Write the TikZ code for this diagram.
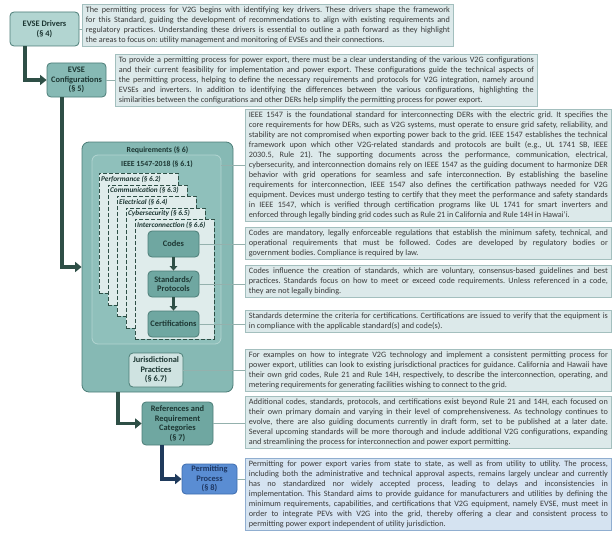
\documentclass[tikz,border=0pt]{standalone}
\usepackage{fontspec}
\setmainfont{Carlito}
\usetikzlibrary{arrows.meta}
\definecolor{boxFill}{HTML}{DCE9EA}
\definecolor{boxLine}{HTML}{A3BFBE}
\definecolor{bodyText}{HTML}{3A3A3A}
\definecolor{tealLight}{HTML}{B2D5D1}
\definecolor{tealMid}{HTML}{86B9B4}
\definecolor{tealInner}{HTML}{8FC0BB}
\definecolor{tealDeep}{HTML}{6FA7A1}
\definecolor{tealDark}{HTML}{4C7D77}
\definecolor{pageFill}{HTML}{DFECEB}
\definecolor{juriFill}{HTML}{CFE3E1}
\definecolor{arrowGreen}{HTML}{2E4F46}
\definecolor{arrowNavy}{HTML}{1F3A5C}
\definecolor{blueFill}{HTML}{5A8DD3}
\definecolor{blueLine}{HTML}{3D6CAE}
\definecolor{blueText}{HTML}{1F3864}
\definecolor{blueBoxFill}{HTML}{D5E3F1}
\definecolor{blueBoxLine}{HTML}{90AED0}
\definecolor{labelText}{HTML}{1D3733}
\hyphenpenalty=10000
\frenchspacing
\begin{document}
\begin{tikzpicture}
		[x=1pt,y=-1pt,
			textDecorate/.style={draw=boxLine,fill=boxFill,text=bodyText,anchor=north west,align=justify,
				inner xsep=3.5pt,inner ysep=2.5pt,line width=0.8pt,font=\fontsize{8.2}{10}\selectfont},
			nodeDecorate/.style={draw=tealDark,rounded corners=4pt,line width=0.8pt,text=labelText,align=center,
				inner sep=1pt,font=\fontsize{8.4}{9.5}\selectfont\bfseries},
			pageDecorate/.style={draw=arrowGreen,dash pattern=on 4pt off 2pt,line width=0.7pt,fill=pageFill,anchor=north west,
				minimum width=79pt,minimum height=120pt,inner sep=0pt},
			pageLabel/.style={anchor=north west,inner xsep=2pt,inner ysep=2.5pt,text=labelText,font=\fontsize{7.3}{8}\selectfont\bfseries\itshape},
			titleLabel/.style={text=labelText,inner sep=0pt,font=\fontsize{7.8}{8}\selectfont\bfseries},
			lineDecorate/.style={-,draw=tealDark!60,line width=0.7pt},
			arrowDecorate/.style={-{Triangle[length=6.5pt,width=10pt]},line width=3.4pt,draw=arrowGreen},
			stepArrow/.style={-{Triangle[length=4.5pt,width=7.5pt]},line width=2.8pt,draw=arrowGreen}]
		\useasboundingbox (0,0) rectangle (613,535);
		% left column of sections
		\node (drivers) at (44.5,29) [nodeDecorate,fill=tealLight,minimum width=69pt,minimum height=34pt] {EVSE Drivers\\(\S~4)};
		\node (config) at (76.5,80) [nodeDecorate,fill=tealMid,minimum width=59pt,minimum height=34pt] {EVSE\\Configurations\\(\S~5)};
		\node (req) at (157.5,267) [nodeDecorate,fill=tealMid,rounded corners=7pt,minimum width=151pt,minimum height=250pt] {};
		\node (reqTitle) at (157.5,150) [titleLabel] {Requirements (\S~6)};
		\node (ieee) at (156.5,249.5) [nodeDecorate,draw=tealLight,fill=tealInner,rounded corners=6pt,minimum width=129pt,minimum height=189pt] {};
		\node (ieeeTitle) at (157,164) [titleLabel] {IEEE 1547-2018 (\S~6.1)};
		\foreach \pagename/\pagetitle/\i in {
				perf/Performance (\S~6.2)/0, comm/Communication (\S~6.3)/1, elec/Electrical (\S~6.4)/2,
				cyber/Cybersecurity (\S~6.5)/3, inter/Interconnection (\S~6.6)/4}
			{
				\node (\pagename) at (99+9*\i,173+11.5*\i) [pageDecorate] {};
				\node [pageLabel] at (\pagename.north west) {\pagetitle};
			}
		\node (codes) at (173.5,244) [nodeDecorate,fill=tealDeep,minimum width=51pt,minimum height=26pt] {Codes};
		\node (stds) at (173.5,284) [nodeDecorate,fill=tealDeep,minimum width=51pt,minimum height=26pt] {Standards/\\Protocols};
		\node (certs) at (173.5,324) [nodeDecorate,fill=tealDeep,minimum width=51pt,minimum height=26pt] {Certifications};
		\node (juris) at (156,370) [nodeDecorate,fill=juriFill,minimum width=54pt,minimum height=34pt] {Jurisdictional\\Practices\\(\S~6.7)};
		\node (refs) at (177.5,423.5) [nodeDecorate,fill=tealDeep,minimum width=71pt,minimum height=43pt] {References and\\Requirement\\Categories\\(\S~7)};
		\node (permit) at (209.5,479) [nodeDecorate,draw=blueLine,fill=blueFill,text=blueText,minimum width=55pt,minimum height=30pt] {Permitting\\Process\\(\S~8)};
		% text boxes
		\node (t1) at (82,4) [textDecorate,text width=364pt] {The permitting process for V2G begins with identifying key drivers. These drivers shape the framework\linebreak for this Standard, guiding the development of recommendations to align with existing requirements and\linebreak regulatory practices. Understanding these drivers is essential to outline a path forward as they highlight\linebreak the areas to focus on: utility management and monitoring of EVSEs and their connections.};
		\node (t2) at (115,54) [textDecorate,text width=415pt] {To provide a permitting process for power export, there must be a clear understanding of the various V2G configurations\linebreak and their current feasibility for implementation and power export. These configurations guide the technical aspects of\linebreak the permitting process, helping to define the necessary requirements and protocols for V2G integration, namely around\linebreak EVSEs and inverters. In addition to identifying the differences between the various configurations, highlighting the\linebreak similarities between the configurations and other DERs help simplify the permitting process for power export.};
		\node (t3) at (245,109) [textDecorate,text width=359pt] {IEEE 1547 is the foundational standard for interconnecting DERs with the electric grid. It specifies the\linebreak core requirements for how DERs, such as V2G systems, must operate to ensure grid safety, reliability, and\linebreak stability are not compromised when exporting power back to the grid. IEEE 1547 establishes the technical\linebreak framework upon which other V2G-related standards and protocols are built (e.g., UL 1741 SB, IEEE\linebreak 2030.5, Rule 21). The supporting documents across the performance, communication, electrical,\linebreak cybersecurity, and interconnection domains rely on IEEE 1547 as the guiding document to harmonize DER\linebreak behavior with grid operations for seamless and safe interconnection. By establishing the baseline\linebreak requirements for interconnection, IEEE 1547 also defines the certification pathways needed for V2G\linebreak equipment. Devices must undergo testing to certify that they meet the performance and safety standards\linebreak in IEEE 1547, which is verified through certification programs like UL 1741 for smart inverters and\linebreak enforced through legally binding grid codes such as Rule 21 in California and Rule 14H in Hawai’i.};
		\node (t4) at (245,227) [textDecorate,text width=359pt] {Codes are mandatory, legally enforceable regulations that establish the minimum safety, technical, and\linebreak operational requirements that must be followed. Codes are developed by regulatory bodies or\linebreak government bodies. Compliance is required by law.};
		\node (t5) at (245,265) [textDecorate,text width=359pt] {Codes influence the creation of standards, which are voluntary, consensus-based guidelines and best\linebreak practices. Standards focus on how to meet or exceed code requirements. Unless referenced in a code,\linebreak they are not legally binding.};
		\node (t6) at (245,310) [textDecorate,text width=359pt] {Standards determine the criteria for certifications. Certifications are issued to verify that the equipment is\linebreak in compliance with the applicable standard(s) and code(s).};
		\node (t7) at (245,349) [textDecorate,text width=359pt] {For examples on how to integrate V2G technology and implement a consistent permitting process for\linebreak power export, utilities can look to existing jurisdictional practices for guidance. California and Hawaii have\linebreak their own grid codes, Rule 21 and Rule 14H, respectively, to describe the interconnection, operating, and\linebreak metering requirements for generating facilities wishing to connect to the grid.};
		\node (t8) at (245,396) [textDecorate,text width=359pt] {Additional codes, standards, protocols, and certifications exist beyond Rule 21 and 14H, each focused on\linebreak their own primary domain and varying in their level of comprehensiveness. As technology continues to\linebreak evolve, there are also guiding documents currently in draft form, set to be published at a later date.\linebreak Several upcoming standards will be more thorough and include additional V2G configurations, expanding\linebreak and streamlining the process for interconnection and power export permitting.};
		\node (t9) at (245,458) [textDecorate,draw=blueBoxLine,fill=blueBoxFill,text width=359pt] {Permitting for power export varies from state to state, as well as from utility to utility. The process,\linebreak including both the administrative and technical approval aspects, remains largely unclear and currently\linebreak has no standardized nor widely accepted process, leading to delays and inconsistencies in\linebreak implementation. This Standard aims to provide guidance for manufacturers and utilities by defining the\linebreak minimum requirements, capabilities, and certifications that V2G equipment, namely EVSE, must meet in\linebreak order to integrate PEVs with V2G into the grid, thereby offering a clear and consistent process to\linebreak permitting power export independent of utility jurisdiction.};
		% connectors
		\path
		\foreach \startnode/\endnode in {drivers/t1, config/t2, codes/t4, stds/t5, certs/t6, juris/t7, refs/t8, permit/t9}
			{
				(\startnode.east) edge[lineDecorate] (\startnode.east -| \endnode.west)
			}
		(ieee.east |- t3.west) edge[lineDecorate] (t3.west);
		\draw [arrowDecorate] ([xshift=-19.5pt]drivers.south) |- (config.west);
		\draw [arrowDecorate] ([xshift=-14.5pt]config.south) |- (req.west);
		\draw [arrowDecorate] ([xshift=-39.5pt]req.south) |- (refs.west);
		\draw [arrowDecorate,draw=arrowNavy] ([xshift=-15.5pt]refs.south) |- (permit.west);
		\draw [stepArrow] (codes) -- (stds);
		\draw [stepArrow] (stds) -- (certs);
	\end{tikzpicture}
\end{document}
